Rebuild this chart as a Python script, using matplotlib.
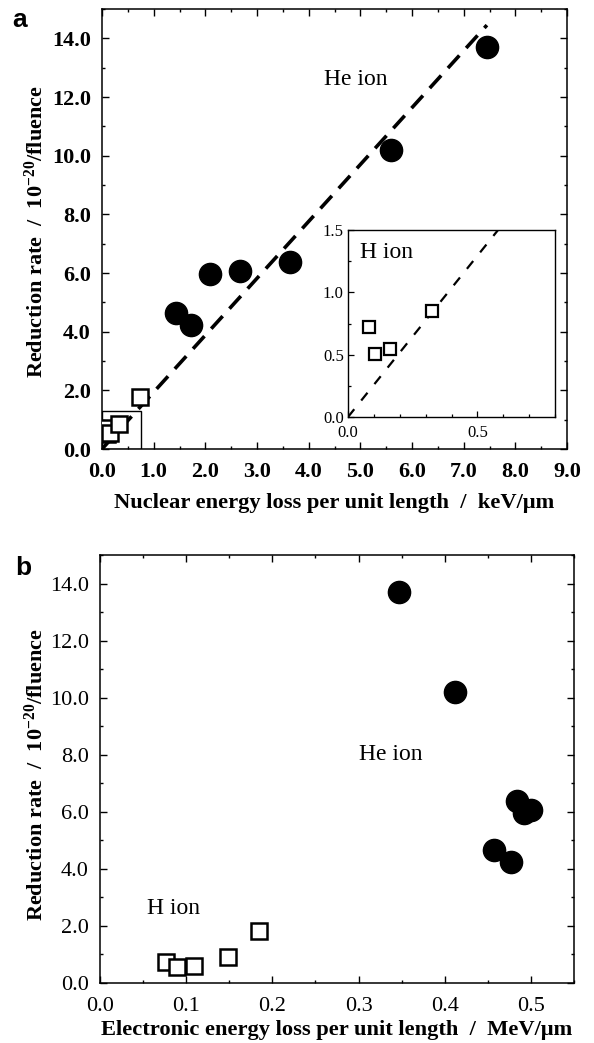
import numpy as np
import matplotlib
matplotlib.use("Agg")
import matplotlib.pyplot as plt
from matplotlib.ticker import MultipleLocator, FormatStrFormatter
import matplotlib.patches as mpatches

plt.rcParams["font.family"] = ["Liberation Serif", "DejaVu Serif"]
plt.rcParams["mathtext.default"] = "regular"

# panel a: nuclear energy loss (keV/um) vs reduction rate
he_nuc = [7.45, 5.6, 3.63, 2.67, 2.09, 1.43, 1.72]
he_rate = [13.7, 10.2, 6.38, 6.07, 5.97, 4.65, 4.23]
h_nuc = [0.08, 0.104, 0.162, 0.325, 0.73]
h_rate = [0.72, 0.505, 0.545, 0.85, 1.78]

# fit lines (through origin)
he_fit_x = [0.0, 7.45]
he_fit_y = [0.0, 14.45]
h_fit_x = [0.0, 0.58]
h_fit_y = [0.0, 1.5]

# panel b: electronic energy loss (MeV/um)
he_ele = [0.347, 0.412, 0.484, 0.500, 0.492, 0.457, 0.477]
h_ele = [0.077, 0.089, 0.109, 0.148, 0.184]
h_rate_b = [0.75, 0.56, 0.58, 0.92, 1.83]

YLABEL = "Reduction rate  /  10$^{-20}$/fluence"

W, H = 594, 1043
fig = plt.figure(figsize=(W / 100, H / 100), dpi=100)


def frac(l, t, r, b):
    return [l / W, 1 - b / H, (r - l) / W, (b - t) / H]


def style_axes(ax, tick_size, bold, xpad):
    for s in ax.spines.values():
        s.set_linewidth(1.1)
    ax.tick_params(which="both", direction="in", top=True, right=True, width=1.0,
                   labelsize=tick_size)
    ax.tick_params(axis="y", pad=8)
    ax.tick_params(axis="x", pad=xpad)
    ax.tick_params(which="major", length=5)
    ax.tick_params(which="minor", length=2.5)
    if bold:
        for lab in ax.get_xticklabels() + ax.get_yticklabels():
            lab.set_fontweight("bold")


# ---- panel a ----
ax = fig.add_axes(frac(102, 9, 567, 449))
ax.plot(he_fit_x, he_fit_y, color="black", lw=2.6, dashes=(4.7, 2.8), zorder=2)
ax.add_patch(mpatches.Rectangle((0, 0), 0.75, 1.3, fill=False, ec="black", lw=1.0, zorder=2))
ax.plot(h_nuc, h_rate, "s", ms=11, mfc="white", mec="black", mew=1.8, zorder=3)
ax.plot(he_nuc, he_rate, "o", ms=16, color="black", zorder=4)
ax.set_xlim(0, 9)
ax.set_ylim(0, 15)
ax.xaxis.set_major_locator(MultipleLocator(1.0))
ax.xaxis.set_minor_locator(MultipleLocator(0.5))
ax.yaxis.set_major_locator(MultipleLocator(2.0))
ax.yaxis.set_minor_locator(MultipleLocator(1.0))
ax.xaxis.set_major_formatter(FormatStrFormatter("%.1f"))
ax.yaxis.set_major_formatter(FormatStrFormatter("%.1f"))
style_axes(ax, 16, True, 9.5)
ax.text(4.29, 12.6, "He ion", fontsize=17, va="center", ha="left")
ax.set_xlabel("Nuclear energy loss per unit length  /  keV/\u03bcm", fontsize=16.2, fontweight="bold")
ax.set_ylabel(YLABEL, fontsize=16, fontweight="bold")
ax.xaxis.set_label_coords(0.5, -0.10)
ax.yaxis.set_label_coords(-0.116, 0.493)

# inset
axi = fig.add_axes(frac(348, 230, 555, 417))
axi.plot(h_fit_x, h_fit_y, color="black", lw=1.6, dashes=(4.5, 5.0), zorder=2)
axi.plot(h_nuc, h_rate, "s", ms=8, mfc="white", mec="black", mew=1.6, zorder=3)
axi.set_xlim(0, 0.8)
axi.set_ylim(0, 1.5)
axi.xaxis.set_major_locator(MultipleLocator(0.5))
axi.xaxis.set_minor_locator(MultipleLocator(0.1))
axi.yaxis.set_major_locator(MultipleLocator(0.5))
axi.yaxis.set_minor_locator(MultipleLocator(0.25))
axi.xaxis.set_major_formatter(FormatStrFormatter("%.1f"))
axi.yaxis.set_major_formatter(FormatStrFormatter("%.1f"))
for s in axi.spines.values():
    s.set_linewidth(1.0)
axi.tick_params(which="both", direction="in", width=0.9, labelsize=12, pad=3)
axi.tick_params(axis="x", pad=6)
axi.tick_params(which="major", length=4)
axi.tick_params(which="minor", length=2.5)
axi.text(0.045, 1.32, "H ion", fontsize=17, va="center", ha="left")

fig.text(20 / W, 1 - 20 / H, "a", fontsize=19, fontweight="bold",
         family="Liberation Sans", ha="center", va="center")

# ---- panel b ----
bx = fig.add_axes(frac(100, 555, 574, 983))
bx.plot(h_ele, h_rate_b, "s", ms=12, mfc="white", mec="black", mew=1.8, zorder=3)
bx.plot(he_ele, he_rate, "o", ms=16, color="black", zorder=4)
bx.set_xlim(0, 0.55)
bx.set_ylim(0, 15)
bx.xaxis.set_major_locator(MultipleLocator(0.1))
bx.xaxis.set_minor_locator(MultipleLocator(0.05))
bx.yaxis.set_major_locator(MultipleLocator(2.0))
bx.yaxis.set_minor_locator(MultipleLocator(1.0))
bx.xaxis.set_major_formatter(FormatStrFormatter("%.1f"))
bx.yaxis.set_major_formatter(FormatStrFormatter("%.1f"))
style_axes(bx, 16, False, 10)
bx.text(0.30, 8.0, "He ion", fontsize=17, va="center", ha="left")
bx.text(0.055, 2.6, "H ion", fontsize=17, va="center", ha="left")
bx.set_xlabel("Electronic energy loss per unit length  /  MeV/\u03bcm", fontsize=16.2, fontweight="bold")
bx.set_ylabel(YLABEL, fontsize=16, fontweight="bold")
bx.xaxis.set_label_coords(0.5, -0.086)
bx.yaxis.set_label_coords(-0.11, 0.486)

fig.text(23 / W, 1 - 568 / H, "b", fontsize=19, fontweight="bold",
         family="Liberation Sans", ha="center", va="center")

fig.savefig("out.png", dpi=100)
